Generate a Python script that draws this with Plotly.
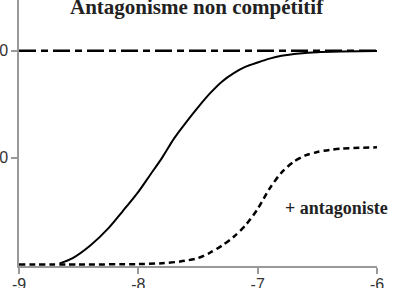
import plotly.graph_objects as go

# Data
agonist_logc = [-8.66, -8.55, -8.40, -8.25, -8.13, -8.00, -7.90, -7.80, -7.70, -7.60,
                -7.50, -7.40, -7.30, -7.20, -7.10, -7.00, -6.90, -6.80, -6.65, -6.50,
                -6.30, -6.00]
agonist_resp = [0.5, 3, 9, 17, 25, 34, 42, 50, 59, 66.5,
                73.5, 80, 85.5, 89.5, 92.5, 94.5, 96.3, 97.6, 98.7, 99.3,
                99.6, 99.8]

antag_logc = [-9.00, -8.50, -8.00, -7.80, -7.65, -7.50, -7.40, -7.30, -7.20, -7.10,
              -7.00, -6.90, -6.80, -6.70, -6.60, -6.50, -6.40, -6.30, -6.15, -6.00]
antag_resp = [0, 0, 0.2, 0.6, 1.4, 3, 5.5, 8.8, 13, 18.5,
              26, 35.5, 43, 48, 51, 52.6, 53.6, 54.2, 54.6, 54.8]

max_logc = [-9.0, -6.0]
max_resp = [100, 100]

x_ticks = [-9, -8, -7, -6]
x_ticklabels = ["-9", "-8", "-7", "-6"]
y_ticks = [50, 100]
y_ticklabels = ["50", "100"]

title_text = "Antagonisme non compétitif"
label_text = "+ antagoniste"

serif = "Liberation Serif, Times New Roman, Tinos, DejaVu Serif, serif"

fig = go.Figure()
fig.add_trace(go.Scatter(x=max_logc, y=max_resp, mode="lines",
                         line=dict(color="black", width=2.5, dash="17px,5px,7px,5px"),
                         hoverinfo="skip"))
fig.add_trace(go.Scatter(x=antag_logc, y=antag_resp, mode="lines",
                         line=dict(color="black", width=2.5, dash="6px,4px", shape="spline", smoothing=0.8),
                         hoverinfo="skip"))
fig.add_trace(go.Scatter(x=agonist_logc, y=agonist_resp, mode="lines",
                         line=dict(color="black", width=2, shape="spline", smoothing=0.8),
                         hoverinfo="skip"))

fig.add_annotation(text="<b>" + title_text + "</b>", xref="paper", yref="paper",
                   x=0.496, y=1.0, xanchor="center", yanchor="middle", yshift=-6.5,
                   showarrow=False,
                   font=dict(family=serif, size=21, color="#222"))
fig.add_annotation(text="<b>" + label_text + "</b>", xref="x", yref="y",
                   x=-6.34, y=26.5, xanchor="center", yanchor="middle",
                   showarrow=False,
                   font=dict(family=serif, size=18, color="#222"))

fig.update_layout(
    width=402, height=288,
    margin=dict(l=19, r=25, t=0, b=22),
    paper_bgcolor="white", plot_bgcolor="white",
    showlegend=False,
    xaxis=dict(range=[-9, -6], tickvals=x_ticks, ticktext=x_ticklabels,
               ticks="outside", ticklen=6, ticklabelstandoff=-3,
               tickcolor="#999", tickwidth=1.5, showline=True, linecolor="#999",
               linewidth=1.5, showgrid=False, zeroline=False, automargin=False,
               tickfont=dict(family="Liberation Sans", size=16, color="#333")),
    yaxis=dict(range=[-0.7, 123.7], tickvals=y_ticks, ticktext=y_ticklabels,
               ticks="outside", ticklen=6, tickcolor="#999", tickwidth=1.5,
               showline=True, linecolor="#999", linewidth=1.5, showgrid=False,
               zeroline=False, automargin=False,
               tickfont=dict(family="Liberation Sans", size=16, color="#333")),
)

fig.write_html("out.html")
